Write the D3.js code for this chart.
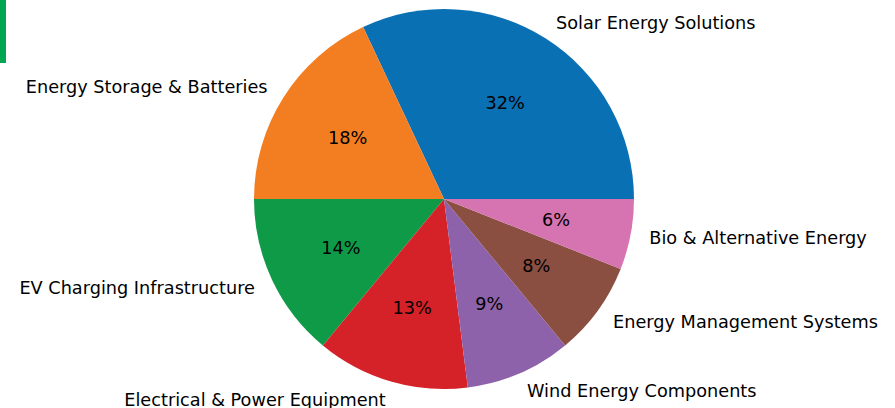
<!DOCTYPE html>
<html><head><meta charset="utf-8">
<script src="https://cdn.jsdelivr.net/npm/d3@7"></script>
<style>body{margin:0;background:#fff;}svg{display:block;}</style>
</head><body>
<svg id="chart" width="895" height="408"></svg>
<script>
const categories = ["Solar Energy Solutions","Energy Storage & Batteries","EV Charging Infrastructure","Electrical & Power Equipment","Wind Energy Components","Energy Management Systems","Bio & Alternative Energy"];
const values = [32, 18, 14, 13, 9, 8, 6];
const colors = ["#0a70b4","#f37e21","#0f9a48","#d52128","#8e62aa","#8a4f40","#d674b1"];

const W = 895, H = 408, cx = 444, cy = 199, R = 190;
const svg = d3.select("#chart");
svg.append("rect").attr("x",0).attr("y",0).attr("width",6).attr("height",63).attr("fill","#00a651");

const total = d3.sum(values);
const pie = d3.pie().sort(null).value(d=>d)
  .startAngle(Math.PI/2).endAngle(Math.PI/2 - 2*Math.PI);
const arcs = pie(values);
const arc = d3.arc().innerRadius(0).outerRadius(R);
const g = svg.append("g").attr("transform",`translate(${cx},${cy})`);
g.selectAll("path").data(arcs).join("path")
  .attr("d",arc).attr("fill",(d,i)=>colors[i]);

function pos(d, f){
  const a = (d.startAngle + d.endAngle)/2;
  return [Math.sin(a)*R*f, -Math.cos(a)*R*f];
}
const font = "DejaVu Sans, sans-serif";
g.selectAll("text.lbl").data(arcs).join("text").attr("class","lbl")
  .attr("x",d=>pos(d,1.1)[0]).attr("y",d=>pos(d,1.1)[1])
  .attr("text-anchor",d=>pos(d,1.1)[0]>0?"start":"end")
  .attr("dominant-baseline","central")
  .attr("font-family",font).attr("font-size",17.7).attr("fill","#000")
  .text((d,i)=>categories[i]);
g.selectAll("text.pct").data(arcs).join("text").attr("class","pct")
  .attr("x",d=>pos(d,0.6)[0]).attr("y",d=>pos(d,0.6)[1])
  .attr("text-anchor","middle")
  .attr("dominant-baseline","central")
  .attr("font-family",font).attr("font-size",17.7).attr("fill","#000")
  .text(d=>Math.round(d.value/total*100)+"%");
</script>
</body></html>
